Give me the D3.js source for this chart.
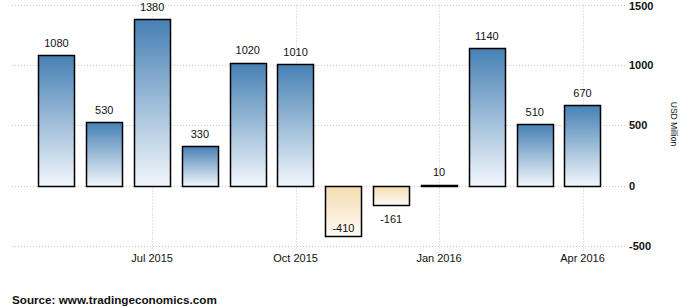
<!DOCTYPE html>
<html>
<head>
<meta charset="utf-8">
<script src="https://cdn.jsdelivr.net/npm/d3@7"></script>
<style>
  body { margin: 0; background: #fff; }
  svg { display: block; font-family: "Liberation Sans", Arial, sans-serif; }
</style>
</head>
<body>
<div id="chart"></div>
<script>

// data
var months = ["May 2015", "Jun 2015", "Jul 2015", "Aug 2015", "Sep 2015", "Oct 2015",
              "Nov 2015", "Dec 2015", "Jan 2016", "Feb 2016", "Mar 2016", "Apr 2016"];
var values = [1080, 530, 1380, 330, 1020, 1010, -410, -161, 10, 1140, 510, 670];
var xTicks = ["Jul 2015", "Oct 2015", "Jan 2016", "Apr 2016"];
var yTicks = [-500, 0, 500, 1000, 1500];

var width = 688, height = 307;

var svg = d3.select("#chart").append("svg")
	.attr("width", width)
	.attr("height", height);

var defs = svg.append("defs");

var posGrad = defs.append("linearGradient")
	.attr("id", "posGrad")
	.attr("x1", 0).attr("y1", 0).attr("x2", 0).attr("y2", 1);
posGrad.append("stop").attr("offset", "0%").attr("stop-color", "#4681b5");
posGrad.append("stop").attr("offset", "100%").attr("stop-color", "#f3f7fb");

var negGrad = defs.append("linearGradient")
	.attr("id", "negGrad")
	.attr("x1", 0).attr("y1", 0).attr("x2", 0).attr("y2", 1);
negGrad.append("stop").attr("offset", "0%").attr("stop-color", "#f4dcb0");
negGrad.append("stop").attr("offset", "100%").attr("stop-color", "#fefbf7");

var x = d3.scaleBand()
	.domain(months)
	.range([12, 627])
	.paddingInner(0.24)
	.paddingOuter(0.55);

var y = d3.scaleLinear()
	.domain([-500, 1500])
	.range([246.3, 4.5]);

// horizontal grid
svg.append("g")
	.selectAll("line")
	.data(yTicks)
	.enter()
	.append("line")
	.attr("x1", 12)
	.attr("x2", 627)
	.attr("y1", function(d) { return Math.round(y(d)) + 0.5; })
	.attr("y2", function(d) { return Math.round(y(d)) + 0.5; })
	.attr("stroke", "#c8c8c8")
	.attr("stroke-dasharray", "1,2");

// vertical grid at quarter ticks
svg.append("g")
	.selectAll("line")
	.data(xTicks)
	.enter()
	.append("line")
	.attr("x1", function(d) { return Math.round(x(d) + x.bandwidth() / 2) + 0.5; })
	.attr("x2", function(d) { return Math.round(x(d) + x.bandwidth() / 2) + 0.5; })
	.attr("y1", 4.5)
	.attr("y2", 251)
	.attr("stroke", "#c8c8c8")
	.attr("stroke-dasharray", "1,2");

// y axis labels (right side)
svg.append("g")
	.selectAll("text")
	.data(yTicks)
	.enter()
	.append("text")
	.attr("x", 629)
	.attr("y", function(d) { return Math.max(y(d), 6.5); })
	.attr("dy", "0.35em")
	.attr("font-size", 11)
	.attr("font-weight", "bold")
	.attr("fill", "#111")
	.text(function(d) { return d; });

// x axis labels
svg.append("g")
	.selectAll("text")
	.data(xTicks)
	.enter()
	.append("text")
	.attr("x", function(d) { return x(d) + x.bandwidth() / 2; })
	.attr("y", 258)
	.attr("dy", "0.35em")
	.attr("text-anchor", "middle")
	.attr("font-size", 11)
	.attr("fill", "#111")
	.text(function(d) { return d; });

// bars
svg.append("g")
	.selectAll("rect")
	.data(values)
	.enter()
	.append("rect")
	.attr("x", function(d, i) { return Math.round(x(months[i])) + 0.5; })
	.attr("y", function(d) { return Math.round(y(Math.max(0, d))) + 0.5; })
	.attr("width", Math.round(x.bandwidth()))
	.attr("height", function(d) { return Math.max(0.5, Math.round(Math.abs(y(d) - y(0)))); })
	.attr("fill", function(d) { return d < 0 ? "url(#negGrad)" : "url(#posGrad)"; })
	.attr("stroke", "#000")
	.attr("stroke-width", 1.5);

// value labels
svg.append("g")
	.selectAll("text")
	.data(values)
	.enter()
	.append("text")
	.attr("x", function(d, i) { return x(months[i]) + x.bandwidth() / 2; })
	.attr("y", function(d) {
		if (d >= 0) return y(d) - 12;
		return Math.min(y(d) + 14, y(-500) - 18);
	})
	.attr("dy", "0.35em")
	.attr("text-anchor", "middle")
	.attr("font-size", 11)
	.attr("fill", "#111")
	.text(function(d) { return d; });

// axis title
svg.append("text")
	.attr("transform", "translate(671,124) rotate(90)")
	.attr("text-anchor", "middle")
	.attr("font-size", 8.5)
	.attr("fill", "#111")
	.text("USD Million");

// source
svg.append("text")
	.attr("x", 12)
	.attr("y", 300)
	.attr("dy", "0.35em")
	.attr("font-size", 11.7)
	.attr("font-weight", "bold")
	.attr("fill", "#111")
	.text("Source: www.tradingeconomics.com");

</script>
</body>
</html>
